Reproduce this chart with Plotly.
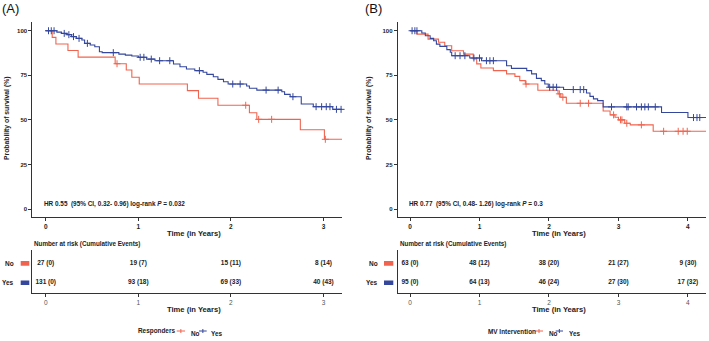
import numpy as np
import plotly.graph_objects as go

# ---------------- data ----------------
RED = "#F0644F"
BLUE = "#34479C"

# Panel A (Responders)
a_no_t = [0, 0.07, 0.11, 0.24, 0.35, 0.75, 0.87, 0.93, 1.01, 1.53, 1.65, 1.86, 2.20, 2.28, 2.75, 3.01]
a_no_s = [100, 96.3, 92.6, 88.9, 85.2, 81.5, 78.0, 73.9, 70.1, 66.4, 62.1, 58.2, 54.0, 50.3, 44.5, 39.1]
a_no_cens = [0.77, 2.16, 2.30, 2.44, 3.02]
a_yes_t = [0, 0.12, 0.17, 0.23, 0.28, 0.33, 0.39, 0.42, 0.48, 0.53, 0.58, 0.61, 0.79, 0.86, 0.93, 1.00,
           1.09, 1.18, 1.38, 1.45, 1.52, 1.61, 1.70, 1.74, 1.81, 1.86, 1.92, 1.97, 2.17, 2.20, 2.28,
           2.55, 2.58, 2.64, 2.76, 2.89, 3.10]
a_yes_s = [100, 99.2, 98.5, 97.8, 96.7, 95.7, 94.8, 92.9, 92.0, 91.0, 88.2, 87.7, 86.9, 86.3, 85.8, 85.1,
           84.1, 83.2, 81.3, 79.8, 78.5, 77.6, 76.7, 75.5, 74.2, 72.7, 71.4, 70.1, 69.0, 67.7, 66.7,
           65.8, 64.3, 63.0, 58.9, 57.4, 55.9]
a_yes_cens = [0.03, 0.06, 0.09, 0.20, 0.25, 0.30, 0.36, 0.45, 0.73, 1.02, 1.06, 1.14, 1.23, 1.34, 1.66,
              2.02, 2.10, 2.38, 2.51, 2.67, 2.92, 2.98, 3.03, 3.07, 3.14, 3.19]
a_end = 3.2
a_ticks = [0, 1, 2, 3]
a_risk_no = ["27 (0)", "19 (7)", "15 (11)", "8 (14)"]
a_risk_yes = ["131 (0)", "93 (18)", "69 (33)", "40 (43)"]
a_hr = "HR 0.55  (95% CI, 0.32- 0.96) log-rank <i>P</i> = 0.032"
a_legend_title = "Responders"

# Panel B (MV Intervention)
b_no_t = [0, 0.10, 0.26, 0.41, 0.50, 0.60, 0.77, 0.91, 0.96, 1.02, 1.20, 1.39, 1.51, 1.58, 1.66, 1.84,
          2.13, 2.17, 2.25, 2.78, 2.88, 2.95, 3.00, 3.09, 3.17, 3.50]
b_no_s = [100, 98.1, 95.3, 93.5, 91.6, 88.8, 86.9, 84.2, 81.4, 79.1, 77.6, 75.8, 74.4, 72.0, 70.1, 66.6,
          64.6, 62.7, 59.3, 55.0, 52.8, 51.5, 50.0, 48.1, 47.2, 43.6]
b_no_cens = [1.67, 2.15, 2.20, 2.45, 2.57, 2.93, 3.03, 3.05, 3.12, 3.33, 3.65, 3.86, 3.93, 3.99]
b_yes_t = [0, 0.17, 0.22, 0.29, 0.34, 0.38, 0.43, 0.53, 0.58, 0.60, 0.86, 1.03, 1.39, 1.46, 1.68, 1.75,
           1.82, 1.89, 1.94, 1.99, 2.21, 2.54, 2.59, 2.64, 2.70, 2.78, 3.62, 4.00]
b_yes_s = [100, 98.7, 97.2, 95.7, 94.4, 92.5, 91.2, 89.4, 87.9, 86.0, 84.7, 83.2, 80.4, 78.9, 77.6, 75.8,
           73.3, 72.0, 70.1, 68.3, 67.0, 65.1, 63.2, 61.8, 60.8, 57.3, 54.1, 51.3]
b_yes_cens = [0.03, 0.07, 0.10, 0.65, 0.72, 0.79, 0.92, 1.00, 1.10, 1.15, 1.20, 2.01, 2.06, 2.11, 2.35,
              2.45, 2.50, 2.90, 3.12, 3.14, 3.26, 3.33, 3.38, 3.43, 3.53, 4.08, 4.13, 4.17]
b_end = 4.26
b_ticks = [0, 1, 2, 3, 4]
b_risk_no = ["63 (0)", "48 (12)", "38 (20)", "21 (27)", "9 (30)"]
b_risk_yes = ["95 (0)", "64 (13)", "46 (24)", "27 (30)", "17 (32)"]
b_hr = "HR 0.77  (95% CI, 0.48- 1.26) log-rank <i>P</i> = 0.3"
b_legend_title = "MV Intervention"

y_ticks = [0, 25, 50, 75, 100]
groups = ["No", "Yes"]

# ---------------- layout helpers ----------------
W, H = 709, 341
FONT = "Liberation Sans, Arial, sans-serif"
DARK = "#222222"
AXC = "#333333"


def px(x):
    return x / W


def py(y):
    return 1 - y / H


def step_at(t, s, tc):
    t = np.asarray(t)
    s = np.asarray(s)
    idx = np.searchsorted(t, np.asarray(tc), side="right") - 1
    return s[idx]


fig = go.Figure()

panels = [
    dict(no_t=a_no_t, no_s=a_no_s, no_c=a_no_cens, yes_t=a_yes_t, yes_s=a_yes_s, yes_c=a_yes_cens,
         end=a_end, ticks=a_ticks, rno=a_risk_no, ryes=a_risk_yes, hr=a_hr, lt=a_legend_title,
         xl=32.3, xr=342.0, x0=-0.145,
         lab="(A)", labx=0, ytitle_x=7, no_lab_r=16, box=(20.7, 29.3), title_c=194,
         leg=(135.7, 176.7, 185, 189, 199, 206.7, 209)),
    dict(no_t=b_no_t, no_s=b_no_s, no_c=b_no_cens, yes_t=b_yes_t, yes_s=b_yes_s, yes_c=b_yes_cens,
         end=b_end, ticks=b_ticks, rno=b_risk_no, ryes=b_risk_yes, hr=b_hr, lt=b_legend_title,
         xl=397.7, xr=706.0, x0=-0.177,
         lab="(B)", labx=363, ytitle_x=369, no_lab_r=380, box=(384, 393.3), title_c=558.7,
         leg=(486, 535, 543, 547, 555.7, 563, 567)),
]

annotations = []
shapes = []

for i, p in enumerate(panels):
    axn = "" if i == 0 else "3"
    axt = "2" if i == 0 else "4"
    xmain, ymain = "x" + axn, "y" + axn
    xtab, ytab = "x" + axt, "y" + axt
    for t, s, c, col, name in [(p["no_t"], p["no_s"], p["no_c"], RED, "No"),
                               (p["yes_t"], p["yes_s"], p["yes_c"], BLUE, "Yes")]:
        fig.add_trace(go.Scatter(x=list(t) + [p["end"]], y=list(s) + [s[-1]], mode="lines",
                                 line=dict(color=col, width=1.1, shape="hv"),
                                 xaxis=xmain, yaxis=ymain, showlegend=False, name=name,
                                 hoverinfo="skip"))
        fig.add_trace(go.Scatter(x=c, y=step_at(t, s, c), mode="markers",
                                 marker=dict(symbol="cross-thin", size=5, line=dict(color=col, width=1)),
                                 xaxis=xmain, yaxis=ymain, showlegend=False, hoverinfo="skip",
                                 cliponaxis=False))
    # risk table text
    for grp_y, vals in [(2, p["rno"]), (1, p["ryes"])]:
        fig.add_trace(go.Scatter(x=p["ticks"], y=[grp_y] * len(vals), mode="text", text=vals,
                                 texttemplate="<b>%{text}</b>",
                                 textfont=dict(size=6.5, color=DARK, family=FONT),
                                 xaxis=xtab, yaxis=ytab, showlegend=False, hoverinfo="skip",
                                 cliponaxis=False))

    dom = [px(p["xl"]), px(p["xr"])]
    xr = [p["x0"], p["end"]]
    common_x = dict(domain=dom, range=xr, showgrid=False, zeroline=False, showline=True,
                    linecolor=AXC, linewidth=1, ticks="outside", ticklen=3, tickcolor=AXC,
                    tickvals=p["ticks"], fixedrange=True)
    fig.layout["xaxis" + axn] = dict(common_x, anchor="y" + axn,
                                     ticktext=["<b>%d</b>" % v for v in p["ticks"]],
                                     tickfont=dict(size=6.5, color=DARK, family=FONT))
    fig.layout["yaxis" + axn] = dict(domain=[py(217.3), py(22)], range=[-4.65, 104.9], anchor="x" + axn,
                                     showgrid=False, zeroline=False, showline=True, linecolor=AXC,
                                     linewidth=1, ticks="outside", ticklen=3, tickcolor=AXC,
                                     tickvals=y_ticks, ticktext=["<b>%d</b>" % v for v in y_ticks],
                                     tickfont=dict(size=6, color=DARK, family=FONT), fixedrange=True)
    fig.layout["xaxis" + axt] = dict(common_x, anchor="y" + axt,
                                     tickfont=dict(size=6.5, color="#555555", family=FONT))
    fig.layout["yaxis" + axt] = dict(domain=[py(293.3), py(250)], range=[0.454, 2.686], anchor="x" + axt,
                                     showgrid=False, zeroline=False, showline=True, linecolor=AXC,
                                     linewidth=1, showticklabels=False, ticks="", fixedrange=True)

    # panel label
    annotations.append(dict(text=p["lab"], x=px(p["labx"]), y=py(9), xref="paper", yref="paper",
                            xanchor="left", yanchor="middle", showarrow=False,
                            font=dict(size=13, color="#111111", family=FONT)))
    # y title
    annotations.append(dict(text="<b>Probability of survival (%)</b>", x=px(p["ytitle_x"]), y=py(119),
                            xref="paper", yref="paper", xanchor="center", yanchor="middle",
                            textangle=-90, showarrow=False,
                            font=dict(size=6.8, color=DARK, family=FONT)))
    # x titles
    for yy in (233.8, 309.5):
        annotations.append(dict(text="<b>Time (in Years)</b>", x=px(p["title_c"]), y=py(yy),
                                xref="paper", yref="paper", xanchor="center", yanchor="middle",
                                showarrow=False, font=dict(size=7.6, color=DARK, family=FONT)))
    # HR text
    annotations.append(dict(text="<b>" + p["hr"] + "</b>", x=-0.045, y=2.6, xref=xmain,
                            yref=ymain, xanchor="left", yanchor="middle", showarrow=False,
                            font=dict(size=6.4, color=DARK, family=FONT)))
    # risk table title
    annotations.append(dict(text="<b>Number at risk (Cumulative Events)</b>", x=px(p["xl"]), y=py(244),
                            xref="paper", yref="paper", xanchor="left", yanchor="middle",
                            showarrow=False, font=dict(size=6.3, color=DARK, family=FONT)))
    # risk table group labels + color boxes
    for grp_y, g, col in [(2, "No", RED), (1, "Yes", BLUE)]:
        annotations.append(dict(text="<b>" + g + "</b>", x=px(p["no_lab_r"]), y=grp_y, xref="paper",
                                yref=ytab, xanchor="right", yanchor="middle", showarrow=False,
                                font=dict(size=6.5, color=DARK, family=FONT)))
        shapes.append(dict(type="rect", xref="paper", yref=ytab, x0=px(p["box"][0]),
                           x1=px(p["box"][1]), y0=grp_y - 0.12, y1=grp_y + 0.12,
                           fillcolor=col, line=dict(width=0)))
    # bottom legend
    lg = p["leg"]
    annotations.append(dict(text="<b>" + p["lt"] + "</b>", x=px(lg[0]), y=py(331), xref="paper",
                            yref="paper", xanchor="left", yanchor="middle", showarrow=False,
                            font=dict(size=6.4, color=DARK, family=FONT)))
    for (xa, xb), col, g, xt in [((lg[1], lg[2]), RED, "No", lg[3]), ((lg[4], lg[5]), BLUE, "Yes", lg[6])]:
        shapes.append(dict(type="line", xref="paper", yref="paper", x0=px(xa), x1=px(xb),
                           y0=py(331), y1=py(331), line=dict(color=col, width=1)))
        xm = (xa + xb) / 2
        shapes.append(dict(type="line", xref="paper", yref="paper", x0=px(xm), x1=px(xm),
                           y0=py(329), y1=py(333), line=dict(color=col, width=1)))
        annotations.append(dict(text="<b>" + g + "</b>", x=px(xt), y=py(333), xref="paper",
                                yref="paper", xanchor="left", yanchor="middle", showarrow=False,
                                font=dict(size=6.4, color=DARK, family=FONT)))

fig.update_layout(width=W, height=H, margin=dict(l=0, r=0, t=0, b=0, pad=0),
                  paper_bgcolor="white", plot_bgcolor="white", showlegend=False,
                  annotations=annotations, shapes=shapes, hovermode=False,
                  font=dict(family=FONT, color=DARK))

fig.write_html("out.html", config={"displayModeBar": False, "staticPlot": True},
               post_script="document.body.style.margin='0px';document.body.style.padding='0px';"
                           "document.body.style.overflow='hidden';")
